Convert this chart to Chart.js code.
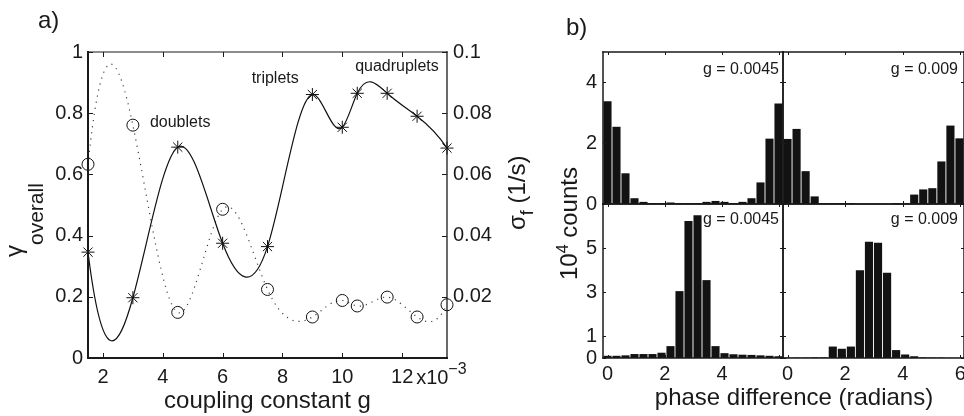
<!DOCTYPE html>
<html>
<head>
<meta charset="utf-8">
<script src="https://cdn.jsdelivr.net/npm/chart.js@4.4.1/dist/chart.umd.min.js"></script>
<style>
  html, body { margin: 0; padding: 0; background: #fff; }
  #fig { position: relative; width: 964px; height: 416px; overflow: hidden; }
  #fig canvas { position: absolute; left: 0; top: 0; }
</style>
</head>
<body>
<div id="fig">
  <canvas id="coupling" width="1000" height="416"></canvas>
  <canvas id="histTL" width="1000" height="416"></canvas>
  <canvas id="histTR" width="1000" height="416"></canvas>
  <canvas id="histBL" width="1000" height="416"></canvas>
  <canvas id="histBR" width="1000" height="416"></canvas>
</div>
<script>
// a) coupling constant g (x 1e-3)
const couplingG = [1.5, 3, 4.5, 6, 7.5, 9, 10, 10.5, 11.5, 12.5, 13.5];
const gammaOverall = [0.346, 0.197, 0.689, 0.375, 0.364, 0.861, 0.754, 0.865, 0.865, 0.790, 0.686];
const sigmaF = [0.0633, 0.0761, 0.0149, 0.0486, 0.0224, 0.0134, 0.0188, 0.0170, 0.0199, 0.0134, 0.0174];
const gTicks = [2, 4, 6, 8, 10, 12];
const gammaTicks = [0, 0.2, 0.4, 0.6, 0.8, 1];
const sigmaTicks = [0.02, 0.04, 0.06, 0.08, 0.1];
const notes = [['doublets', 3.57, 0.768], ['triplets', 6.97, 0.912], ['quadruplets', 10.43, 0.951]];

// b) phase difference histograms (10^4 counts), bin centres in radians
const phaseBins = [0, 0.314, 0.628, 0.942, 1.257, 1.571, 1.885, 2.199, 2.513, 2.827,
                   3.142, 3.456, 3.770, 4.084, 4.398, 4.712, 5.027, 5.341, 5.655, 5.969];
const countsTop45 = [3.38, 2.54, 1.01, 0.19, 0.07, 0.03, 0.03, 0.05, 0.03, 0.03,
                     0.03, 0.07, 0.10, 0.07, 0.03, 0.07, 0.19, 0.71, 2.15, 3.31];
const countsTop9 = [2.14, 2.47, 1.08, 0.25, 0.02, 0.03, 0.03, 0.03, 0, 0,
                    0, 0, 0.03, 0.02, 0.31, 0.48, 0.52, 1.40, 2.58, 2.16];
const countsBot45 = [0.10, 0.10, 0.12, 0.18, 0.18, 0.18, 0.24, 0.54, 3.04, 6.23,
                     6.49, 3.54, 0.54, 0.22, 0.17, 0.15, 0.14, 0.12, 0.10, 0.08];
const countsBot9 = [0.02, 0.02, 0.02, 0.03, 0.03, 0.52, 0.42, 0.52, 3.99, 5.28,
                    5.24, 3.87, 0.36, 0.16, 0.08, 0.03, 0.02, 0.02, 0.01, 0.01];
const phaseTicks = [0, 2, 4, 6];
const topCountTicks = [0, 2, 4];
const botCountTicks = [0, 1, 3, 5];

const FONT = "'Liberation Sans', Arial, sans-serif";
const INK = '#1a1a1a';
const W = 1000, H = 416;
Chart.defaults.font.family = FONT;
Chart.defaults.color = INK;

function axis(position, min, max, values, size, o) {
  return {
    type: 'linear', position, min, max, offset: false,
    afterBuildTicks: scale => { scale.ticks = values.map(v => ({ value: v })); },
    afterFit: scale => { if (scale.isHorizontal()) scale.height = size; else scale.width = size; },
    ticks: { display: !!o.labels, padding: o.pad || 0, autoSkip: false, maxRotation: 0,
             font: { size: 20 }, callback: o.fmt || (v => String(v)) },
    grid: { display: false, drawTicks: false, offset: false },
    border: { display: false }
  };
}

// box round the plot area with inward tick marks on all four sides
const frame = {
  id: 'frame',
  afterDatasetsDraw(chart, args, o) {
    const ctx = chart.ctx, a = chart.chartArea, xs = chart.scales.x, ys = chart.scales.y;
    ctx.save();
    ctx.strokeStyle = INK;
    ctx.lineWidth = 1;
    ctx.beginPath();
    xs.ticks.forEach(t => {
      const p = Math.round(xs.getPixelForValue(t.value)) + 0.5;
      ctx.moveTo(p, a.bottom); ctx.lineTo(p, a.bottom - o.tick);
      ctx.moveTo(p, a.top); ctx.lineTo(p, a.top + o.tick);
    });
    ys.ticks.forEach(t => {
      const p = Math.round(ys.getPixelForValue(t.value)) + 0.5;
      ctx.moveTo(a.left, p); ctx.lineTo(a.left + o.tick, p);
      ctx.moveTo(a.right, p); ctx.lineTo(a.right - o.tick, p);
    });
    ctx.stroke();
    const [wt, wr, wb, wl] = o.widths;
    const line = (w, x1, y1, x2, y2) => {
      ctx.lineWidth = w; ctx.beginPath(); ctx.moveTo(x1, y1); ctx.lineTo(x2, y2); ctx.stroke();
    };
    ctx.lineCap = 'square';
    line(wt, a.left, a.top, a.right, a.top);
    line(wr, a.right, a.top, a.right, a.bottom);
    line(wb, a.left, a.bottom, a.right, a.bottom);
    line(wl, a.left, a.top, a.left, a.bottom);
    ctx.restore();
  }
};

// draws text running upwards; parts = [text, size, baseline shift]
function upText(ctx, parts, x, y) {
  ctx.save();
  ctx.translate(x, y);
  ctx.rotate(-Math.PI / 2);
  ctx.fillStyle = INK;
  ctx.textBaseline = 'alphabetic';
  let u = 0;
  parts.forEach(([t, size, shift]) => {
    ctx.font = size + 'px ' + FONT;
    ctx.fillText(t, u, shift);
    u += ctx.measureText(t).width;
  });
  ctx.restore();
}

function solve(A, b) {
  const n = b.length;
  for (let c = 0; c < n; c++) {
    let p = c;
    for (let i = c + 1; i < n; i++) if (Math.abs(A[i][c]) > Math.abs(A[p][c])) p = i;
    [A[c], A[p]] = [A[p], A[c]];
    [b[c], b[p]] = [b[p], b[c]];
    for (let i = c + 1; i < n; i++) {
      const f = A[i][c] / A[c][c];
      for (let j = c; j < n; j++) A[i][j] -= f * A[c][j];
      b[i] -= f * b[c];
    }
  }
  const out = new Array(n).fill(0);
  for (let i = n - 1; i >= 0; i--) {
    let s = b[i];
    for (let j = i + 1; j < n; j++) s -= A[i][j] * out[j];
    out[i] = s / A[i][i];
  }
  return out;
}

// matlab-like spline (not-a-knot) through the drawn points: sets the bezier handles
const splineCurve = {
  id: 'splineCurve',
  beforeDatasetDraw(chart, args) {
    const meta = args.meta, pts = meta.data, n = pts.length;
    if (!meta.dataset || n < 4) return;
    const x = pts.map(p => p.x), y = pts.map(p => p.y), h = [];
    for (let i = 0; i < n - 1; i++) h.push(x[i + 1] - x[i]);
    const A = [], r = [];
    for (let i = 0; i < n; i++) { A.push(new Array(n).fill(0)); r.push(0); }
    A[0][0] = h[1]; A[0][1] = -(h[0] + h[1]); A[0][2] = h[0];
    for (let i = 1; i < n - 1; i++) {
      A[i][i - 1] = h[i - 1]; A[i][i] = 2 * (h[i - 1] + h[i]); A[i][i + 1] = h[i];
      r[i] = 6 * ((y[i + 1] - y[i]) / h[i] - (y[i] - y[i - 1]) / h[i - 1]);
    }
    A[n - 1][n - 3] = h[n - 2]; A[n - 1][n - 2] = -(h[n - 3] + h[n - 2]); A[n - 1][n - 1] = h[n - 3];
    const M = solve(A, r);
    const m = [];
    for (let i = 0; i < n - 1; i++) m.push((y[i + 1] - y[i]) / h[i] - h[i] * (2 * M[i] + M[i + 1]) / 6);
    m.push((y[n - 1] - y[n - 2]) / h[n - 2] + h[n - 2] * (M[n - 2] + 2 * M[n - 1]) / 6);
    for (let i = 0; i < n; i++) {
      const hb = i > 0 ? h[i - 1] : 0, ha = i < n - 1 ? h[i] : 0;
      pts[i].cp1x = x[i] - hb / 3; pts[i].cp1y = y[i] - m[i] * hb / 3;
      pts[i].cp2x = x[i] + ha / 3; pts[i].cp2y = y[i] + m[i] * ha / 3;
    }
    meta.dataset._pointsUpdated = true;
    meta.dataset._path = undefined;
  }
};

const couplingText = {
  id: 'couplingText',
  afterDraw(chart) {
    const ctx = chart.ctx, xs = chart.scales.x, ys = chart.scales.y;
    ctx.save();
    ctx.fillStyle = INK;
    ctx.font = '16px ' + FONT;
    ctx.textBaseline = 'middle';
    notes.forEach(([t, g, v]) => ctx.fillText(t, xs.getPixelForValue(g), ys.getPixelForValue(v)));
    ctx.textBaseline = 'alphabetic';
    const x12 = xs.getPixelForValue(12) + 14;
    ctx.font = '20px ' + FONT;
    ctx.fillText('x10', x12, 384);
    const w = ctx.measureText('x10').width;
    ctx.font = '16px ' + FONT;
    ctx.fillText('\u22123', x12 + w, 374);
    ctx.font = '24px ' + FONT;
    ctx.fillText('a)', 38, 28);
    ctx.textAlign = 'center';
    ctx.fillText('coupling constant g', (chart.chartArea.left + chart.chartArea.right) / 2, 408);
    ctx.restore();
    upText(ctx, [['\u03b3', 24, 0], ['overall', 21, 21]], 22, 257);
    upText(ctx, [['\u03c3', 24, 0], ['f', 18, 8], [' (1/s)', 24, 0]], 525, 230);
  }
};

new Chart(document.getElementById('coupling'), {
  type: 'line',
  data: {
    datasets: [
      {
        label: 'gamma overall', yAxisID: 'y', clip: false,
        data: couplingG.map((g, i) => ({ x: g, y: gammaOverall[i] })),
        borderColor: '#111', borderWidth: 1.2, tension: 0.4,
        pointStyle: 'star', pointRadius: 6.5, pointBorderColor: '#111', pointBorderWidth: 1
      },
      {
        label: 'sigma f', yAxisID: 'y2', clip: false,
        data: couplingG.map((g, i) => ({ x: g, y: sigmaF[i] })),
        borderColor: '#444', borderWidth: 1.2, borderDash: [1.2, 5], tension: 0.4,
        pointStyle: 'circle', pointRadius: 6, pointBorderColor: '#111', pointBorderWidth: 1,
        pointBackgroundColor: 'rgba(0,0,0,0)'
      }
    ]
  },
  options: {
    responsive: false, animation: false, devicePixelRatio: 1, events: [],
    layout: { padding: { left: 0, top: 52, right: W - 447 - 93, bottom: 0 } },
    plugins: {
      legend: { display: false }, tooltip: { enabled: false },
      frame: { tick: 5, widths: [1, 1.3, 2, 2] }
    },
    scales: {
      x: axis('bottom', 1.5, 13.5, gTicks, 58, { labels: true, pad: 7 }),
      y: axis('left', 0, 1, gammaTicks, 88, { labels: true, pad: 5 }),
      y2: axis('right', 0, 0.1, sigmaTicks, 93, { labels: true, pad: 6 })
    }
  },
  plugins: [splineCurve, frame, couplingText]
});

const cornerLabel = {
  id: 'cornerLabel',
  afterDraw(chart, args, o) {
    const ctx = chart.ctx, a = chart.chartArea;
    ctx.save();
    ctx.fillStyle = INK;
    ctx.font = '16px ' + FONT;
    ctx.textAlign = 'right';
    ctx.textBaseline = 'middle';
    ctx.fillText(o.text, a.right - o.inset, a.top + o.dy);
    ctx.restore();
  }
};

const histText = {
  id: 'histText',
  afterDraw(chart) {
    const ctx = chart.ctx;
    ctx.save();
    ctx.fillStyle = INK;
    ctx.font = '24px ' + FONT;
    ctx.fillText('b)', 566, 35);
    ctx.textAlign = 'center';
    ctx.fillText('phase difference (radians)', 794, 405);
    ctx.restore();
    upText(ctx, [['10', 24, 0], ['4', 16, -9], [' counts', 24, 0]], 577, 280);
  }
};

function histogram(id, counts, box, countTicks, countMax, o) {
  const xmin = -Math.PI / 20, xmax = 2 * Math.PI - Math.PI / 20;
  const yw = o.yLabels ? 63 : 0, xh = o.xLabels ? 58 : 0;
  return new Chart(document.getElementById(id), {
    type: 'bar',
    data: {
      datasets: [{
        data: phaseBins.map((b, i) => ({ x: b, y: counts[i] })),
        backgroundColor: '#121212', borderWidth: 0,
        barPercentage: 0.9, categoryPercentage: 1
      }]
    },
    options: {
      responsive: false, animation: false, devicePixelRatio: 1, events: [],
      layout: { padding: { left: box[0] - yw, top: box[1], right: W - box[2], bottom: H - box[3] - xh } },
      plugins: {
        legend: { display: false }, tooltip: { enabled: false },
        frame: { tick: 3, widths: [1.5, 1.5, 1.5, 1.5] },
        cornerLabel: o.corner
      },
      scales: {
        x: axis('bottom', xmin, xmax, phaseTicks, xh, { labels: o.xLabels, pad: 4, fmt: o.xFmt }),
        y: axis('left', 0, countMax, countTicks, yw, { labels: o.yLabels, pad: 6 })
      }
    },
    plugins: o.extra ? [frame, cornerLabel, o.extra] : [frame, cornerLabel]
  });
}

histogram('histTL', countsTop45, [603, 52, 783, 204], topCountTicks, 5,
  { yLabels: true, corner: { text: 'g = 0.0045', inset: 4, dy: 18 } });
histogram('histTR', countsTop9, [783, 52, 964, 204], topCountTicks, 5,
  { corner: { text: 'g = 0.009', inset: 6, dy: 18 } });
histogram('histBL', countsBot45, [603, 204, 783, 358], botCountTicks, 7,
  { yLabels: true, xLabels: true, xFmt: v => (v === 6 ? '' : String(v)),
    corner: { text: 'g = 0.0045', inset: 4, dy: 16 }, extra: histText });
histogram('histBR', countsBot9, [783, 204, 964, 358], botCountTicks, 7,
  { xLabels: true, corner: { text: 'g = 0.009', inset: 6, dy: 16 } });
</script>
</body>
</html>
